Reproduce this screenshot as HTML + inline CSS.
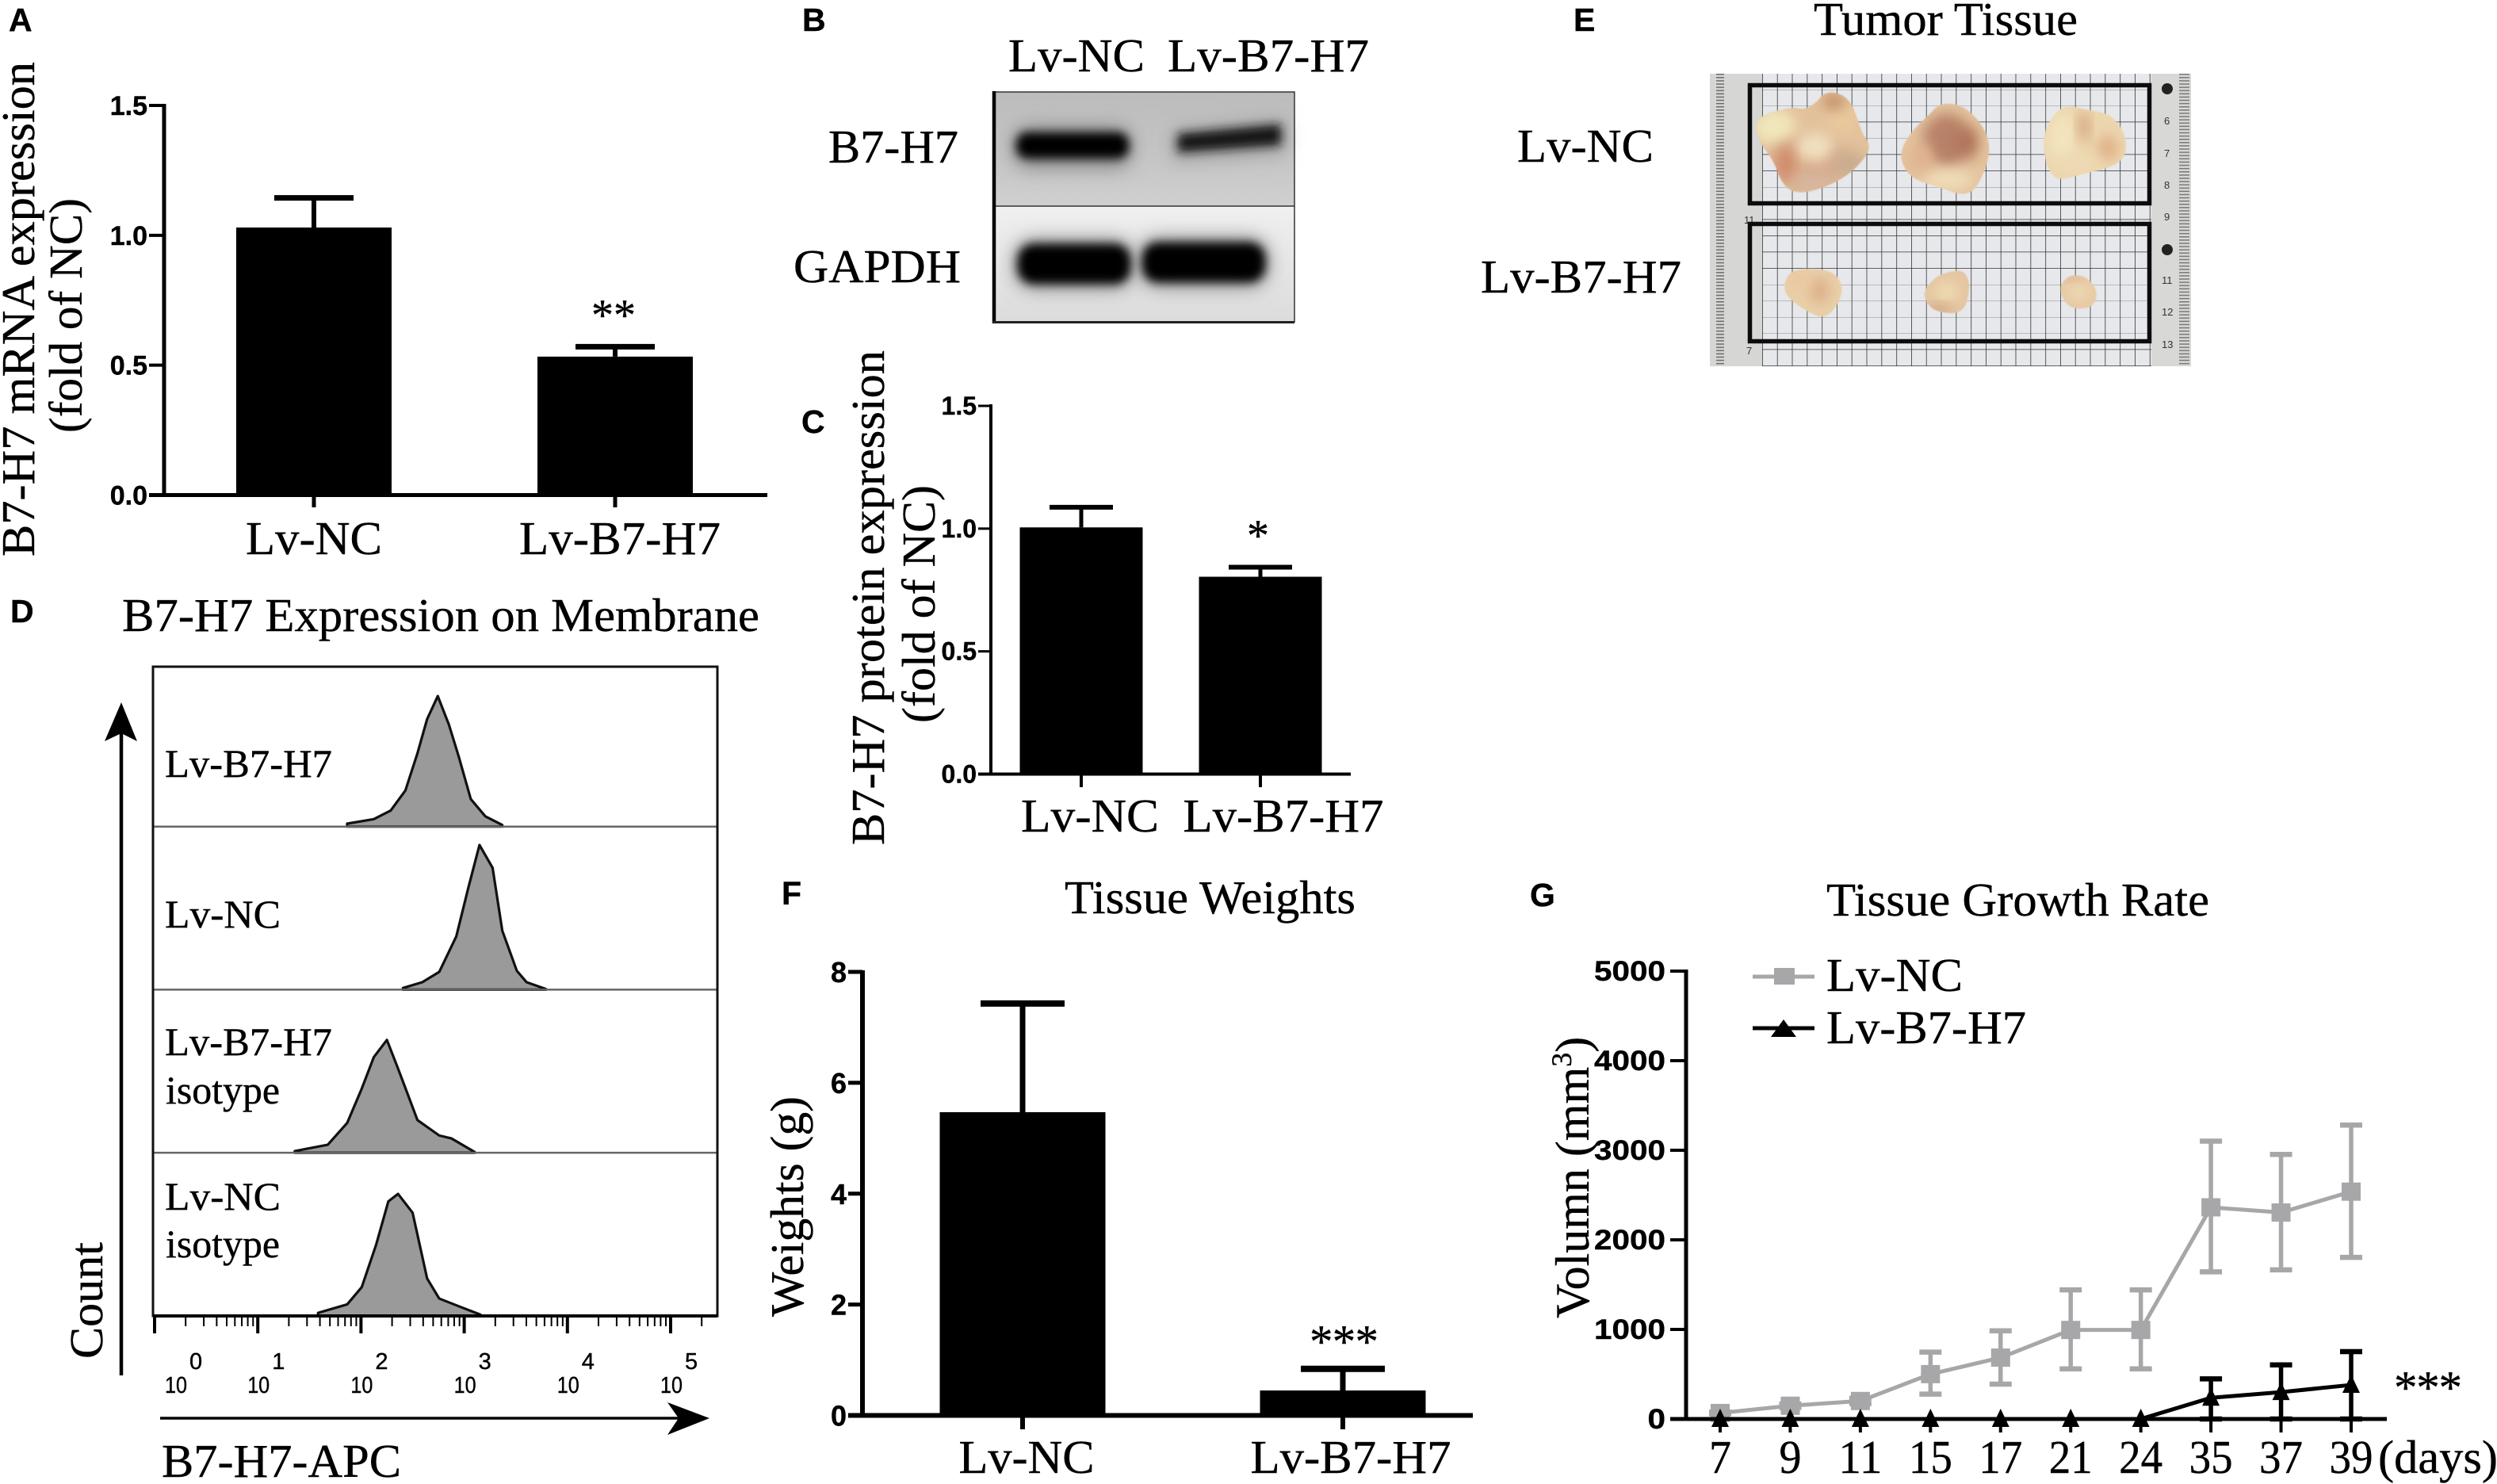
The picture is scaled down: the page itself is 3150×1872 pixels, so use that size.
<!DOCTYPE html>
<html lang="en">
<head>
<meta charset="utf-8">
<title>B7-H7 figure</title>
<style>
html,body{margin:0;padding:0;background:#fff;width:3150px;height:1872px;overflow:hidden}
svg{display:block}
text{fill:#000;stroke:#000;stroke-width:.4px}
.s{font-family:"Liberation Serif",serif;font-size:59px}
.m{font-family:"Liberation Serif",serif;font-size:50px}
.l{font-family:"Liberation Sans",sans-serif;font-weight:700;font-size:41px}
text.r{font-family:"Liberation Sans",sans-serif;font-size:13px;fill:#333;stroke:none}
</style>
</head>
<body>
<svg id="fig" xmlns="http://www.w3.org/2000/svg" width="3150" height="1872" viewBox="0 0 3150 1872">
<defs>
  <filter id="blur2" x="-30%" y="-100%" width="160%" height="300%"><feGaussianBlur stdDeviation="6"/></filter>
  <filter id="halo" x="-30%" y="-100%" width="160%" height="300%"><feGaussianBlur stdDeviation="12"/></filter>
  <filter id="blur6" x="-60%" y="-60%" width="220%" height="220%"><feGaussianBlur stdDeviation="14 24"/></filter>
  <filter id="edge" x="-5%" y="-5%" width="110%" height="110%"><feGaussianBlur stdDeviation="1.5 2.500"/></filter>
  <linearGradient id="blotTop" x1="0" y1="0" x2="0" y2="1"><stop offset="0" stop-color="#bcbcbc"/><stop offset=".6" stop-color="#c6c6c6"/><stop offset="1" stop-color="#d0d0d0"/></linearGradient>
  <linearGradient id="blotBot" x1="0" y1="0" x2="0" y2="1"><stop offset="0" stop-color="#f0f0f0"/><stop offset="1" stop-color="#dcdcdc"/></linearGradient>
  <pattern id="gridCells" width="18.8" height="20.5" patternUnits="userSpaceOnUse" x="2223" y="92">
    <rect width="18.8" height="20.5" fill="#e7e8eb"/>
    <path d="M0 0V20.5M0 0H18.8" stroke="#333" stroke-width="1.6" fill="none"/>
  </pattern>
  <pattern id="rulerL" width="66" height="4.1" patternUnits="userSpaceOnUse" x="2157" y="93">
    <rect width="66" height="4.1" fill="#d6d6d4"/><rect x="8" width="10" height="1.5" fill="#6a6a6a"/>
  </pattern>
  <pattern id="rulerR" width="50" height="4.1" patternUnits="userSpaceOnUse" x="2714" y="93">
    <rect width="50" height="4.1" fill="#d8d8d6"/><rect x="35" width="13" height="1.5" fill="#777"/>
  </pattern>
  <path id="t1" data-pts="600,470 620,430 680,405 705,415 730,385 745,350 775,350 800,385 812,440 825,510 835,530 840,570 810,640 770,690 720,725 680,730 655,690 640,610 610,540"/>
  <path id="t2" data-pts="985,390 1030,395 1070,460 1090,540 1085,620 1060,720 1030,740 980,705 930,680 905,620 905,560 930,490 960,440"/>
  <path id="t3" data-pts="1240,395 1290,415 1340,430 1370,500 1375,580 1350,630 1280,660 1230,685 1210,640 1200,560 1205,480"/>
  <path id="t4" data-pts="680,1015 760,1020 785,1080 775,1150 745,1210 700,1170 665,1120 660,1070"/>
  <path id="t5" data-pts="1000,1030 1035,1020 1050,1080 1035,1190 975,1180 955,1140 952,1100 975,1050"/>
  <path id="t6" data-pts="1255,1040 1290,1045 1315,1100 1305,1165 1260,1170 1240,1130 1235,1080"/>
  <clipPath id="c1"><use href="#t1"/></clipPath>
  <clipPath id="c2"><use href="#t2"/></clipPath>
  <clipPath id="c3"><use href="#t3"/></clipPath>
  <clipPath id="c4"><use href="#t4"/></clipPath>
  <clipPath id="c5"><use href="#t5"/></clipPath>
  <clipPath id="c6"><use href="#t6"/></clipPath>
</defs>

<!-- panel letters -->
<text class="l" x="11" y="39">A</text>
<text class="l" x="1012" y="39">B</text>
<text class="l" x="1011" y="546">C</text>
<text class="l" x="13" y="785">D</text>
<text class="l" x="1985" y="39">E</text>
<text class="l" x="986" y="1141">F</text>
<text class="l" x="1930" y="1143">G</text>

<!-- panel A static text -->
<text class="s" transform="translate(43,702) rotate(-90)" textLength="624" lengthAdjust="spacingAndGlyphs">B7-H7 mRNA expression</text>
<text class="s" transform="translate(103,546) rotate(-90)" textLength="296" lengthAdjust="spacingAndGlyphs">(fold of NC)</text>
<text class="s" x="746" y="416" style="font-size:56px">**</text>

<!-- panel B blot -->
<g>
  <rect x="1252" y="116" width="381" height="144" fill="url(#blotTop)"/>
  <rect x="1252" y="260" width="381" height="146" fill="url(#blotBot)"/>
  <rect x="1278" y="160" width="150" height="52" rx="20" fill="#8a8a8a" filter="url(#halo)"/>
  <polygon points="1480,165 1620,152 1620,192 1480,202" fill="#9a9a9a" filter="url(#halo)"/>
  <rect x="1282" y="167" width="142" height="33" rx="14" fill="#050505" filter="url(#blur2)"/>
  <polygon points="1486,169 1616,157 1616,183 1486,192" fill="#151515" filter="url(#blur2)"/>
  <rect x="1280" y="302" width="150" height="62" rx="24" fill="#888" filter="url(#halo)"/>
  <rect x="1437" y="300" width="163" height="62" rx="24" fill="#888" filter="url(#halo)"/>
  <rect x="1284" y="308" width="142" height="50" rx="20" fill="#000" filter="url(#blur2)"/>
  <rect x="1441" y="306" width="155" height="50" rx="20" fill="#000" filter="url(#blur2)"/>
  <path d="M1252 260H1633" stroke="#333" stroke-width="1.5"/>
  <path d="M1252 116H1633V406H1252" fill="none" stroke="#333" stroke-width="1.5"/>
  <path d="M1254 115V408" stroke="#000" stroke-width="4.5"/>
  <path d="M1252 406.500H1633" stroke="#222" stroke-width="3"/>
</g>
<text class="s" x="1272" y="90" textLength="172" lengthAdjust="spacingAndGlyphs">Lv-NC</text>
<text class="s" x="1473" y="90" textLength="254" lengthAdjust="spacingAndGlyphs">Lv-B7-H7</text>
<text class="s" x="1045" y="205" textLength="164" lengthAdjust="spacingAndGlyphs">B7-H7</text>
<text class="s" x="1001" y="356" textLength="211" lengthAdjust="spacingAndGlyphs">GAPDH</text>

<!-- panel C static text -->
<text class="s" transform="translate(1115,1066) rotate(-90)" textLength="624" lengthAdjust="spacingAndGlyphs">B7-H7 protein expression</text>
<text class="s" transform="translate(1179,912) rotate(-90)" textLength="300" lengthAdjust="spacingAndGlyphs">(fold of NC)</text>
<text class="s" x="1587" y="694" text-anchor="middle" style="font-size:56px">*</text>

<!-- panel D static text -->
<text class="s" x="154" y="796" textLength="804" lengthAdjust="spacingAndGlyphs">B7-H7 Expression on Membrane</text>
<text class="m" x="208" y="980" textLength="211" lengthAdjust="spacingAndGlyphs">Lv-B7-H7</text>
<text class="m" x="208" y="1170" textLength="146" lengthAdjust="spacingAndGlyphs">Lv-NC</text>
<text class="m" x="208" y="1331" textLength="211" lengthAdjust="spacingAndGlyphs">Lv-B7-H7</text>
<text class="m" x="209" y="1392" textLength="144" lengthAdjust="spacingAndGlyphs">isotype</text>
<text class="m" x="208" y="1526" textLength="146" lengthAdjust="spacingAndGlyphs">Lv-NC</text>
<text class="m" x="209" y="1586" textLength="144" lengthAdjust="spacingAndGlyphs">isotype</text>
<text class="s" transform="translate(129,1714) rotate(-90)" textLength="147" lengthAdjust="spacingAndGlyphs">Count</text>
<text class="s" x="204" y="1863" textLength="302" lengthAdjust="spacingAndGlyphs">B7-H7-APC</text>
<g>
  <path d="M153 1735V920" stroke="#000" stroke-width="4.5"/>
  <polygon points="153,886 173,935 153,925 132,935" fill="#000"/>
  <path d="M202 1789H870" stroke="#000" stroke-width="3.5"/>
  <polygon points="895,1789 842,1810 856,1789 842,1769" fill="#000"/>
</g>

<!-- panel E photo -->
<text class="s" x="2288" y="44" textLength="333" lengthAdjust="spacingAndGlyphs">Tumor Tissue</text>
<text class="s" x="1914" y="204" textLength="172" lengthAdjust="spacingAndGlyphs">Lv-NC</text>
<text class="s" x="1868" y="369" textLength="253" lengthAdjust="spacingAndGlyphs">Lv-B7-H7</text>
<g>
  <rect x="2157" y="93" width="66" height="369" fill="url(#rulerL)"/>
  <rect x="2714" y="93" width="50" height="369" fill="url(#rulerR)"/>
  <rect x="2223" y="93" width="491" height="369" fill="url(#gridCells)"/>
  <g>
    <circle cx="2734" cy="112" r="7" fill="#222"/>
    <circle cx="2734" cy="315" r="7" fill="#222"/>
    <text class="r" x="2730" y="157">6</text>
    <text class="r" x="2730" y="198">7</text>
    <text class="r" x="2730" y="238">8</text>
    <text class="r" x="2730" y="278">9</text>
    <text class="r" x="2727" y="358">11</text>
    <text class="r" x="2727" y="398">12</text>
    <text class="r" x="2727" y="439">13</text>
    <text class="r" x="2200" y="282">11</text>
    <text class="r" x="2203" y="447">7</text>
  </g>
  <g transform="translate(1850,0) scale(0.606,0.3333)">
    <g filter="url(#edge)">
      <use href="#t1" fill="#e2c19c"/>
      <g clip-path="url(#c1)">
        <ellipse cx="640" cy="480" rx="45" ry="70" fill="#f0e6bb" filter="url(#blur6)"/>
        <ellipse cx="785" cy="450" rx="35" ry="60" fill="#e8c89c" filter="url(#blur6)"/>
        <ellipse cx="765" cy="385" rx="22" ry="30" fill="#c08a62" filter="url(#blur6)"/>
        <ellipse cx="710" cy="620" rx="85" ry="100" fill="#d8a98a" filter="url(#blur6)" opacity=".9"/>
        <ellipse cx="725" cy="555" rx="40" ry="55" fill="#f0e0bf" filter="url(#blur6)"/>
        <ellipse cx="665" cy="620" rx="14" ry="70" fill="#c97756" filter="url(#blur6)" opacity=".8"/>
        <ellipse cx="795" cy="620" rx="35" ry="50" fill="#c9ad8e" filter="url(#blur6)"/>
        <ellipse cx="720" cy="690" rx="45" ry="30" fill="#d6b8a0" filter="url(#blur6)"/>
      </g>
    </g>
    <g filter="url(#edge)">
      <use href="#t2" fill="#e4c39e"/>
      <g clip-path="url(#c2)">
        <ellipse cx="1000" cy="530" rx="50" ry="100" fill="#b27a62" filter="url(#blur6)" opacity=".9"/>
        <ellipse cx="1045" cy="540" rx="20" ry="60" fill="#a7684e" filter="url(#blur6)" opacity=".8"/>
        <ellipse cx="1000" cy="680" rx="55" ry="40" fill="#efdcb8" filter="url(#blur6)"/>
        <ellipse cx="945" cy="600" rx="24" ry="60" fill="#e0b391" filter="url(#blur6)"/>
      </g>
    </g>
    <g filter="url(#edge)">
      <use href="#t3" fill="#ecd6ae"/>
      <g clip-path="url(#c3)">
        <ellipse cx="1240" cy="520" rx="30" ry="90" fill="#f2e4bd" filter="url(#blur6)"/>
        <ellipse cx="1285" cy="480" rx="10" ry="60" fill="#cf9a76" filter="url(#blur6)"/>
        <ellipse cx="1335" cy="560" rx="20" ry="50" fill="#dfae85" filter="url(#blur6)"/>
        <ellipse cx="1270" cy="620" rx="50" ry="30" fill="#eddab5" filter="url(#blur6)"/>
      </g>
    </g>
    <g filter="url(#edge)">
      <use href="#t4" fill="#e8cfa8"/>
      <g clip-path="url(#c4)">
        <ellipse cx="735" cy="1100" rx="18" ry="50" fill="#dcaa84" filter="url(#blur6)"/>
        <ellipse cx="690" cy="1060" rx="18" ry="35" fill="#ebc6a0" filter="url(#blur6)"/>
      </g>
    </g>
    <g filter="url(#edge)">
      <use href="#t5" fill="#e4c6a2"/>
      <g clip-path="url(#c5)">
        <ellipse cx="1000" cy="1105" rx="24" ry="40" fill="#eedbb1" filter="url(#blur6)"/>
        <ellipse cx="985" cy="1170" rx="26" ry="16" fill="#cc957a" filter="url(#blur6)"/>
      </g>
    </g>
    <g filter="url(#edge)">
      <use href="#t6" fill="#e6c9a4"/>
      <g clip-path="url(#c6)">
        <ellipse cx="1275" cy="1105" rx="22" ry="32" fill="#efdab2" filter="url(#blur6)"/>
        <ellipse cx="1262" cy="1050" rx="18" ry="10" fill="#d2a088" filter="url(#blur6)"/>
      </g>
    </g>
  </g>
  <rect x="2207.500" y="107.500" width="504" height="149" fill="none" stroke="#0c0c0c" stroke-width="5.500"/>
  <rect x="2207.500" y="282.500" width="504" height="148" fill="none" stroke="#0c0c0c" stroke-width="5.500"/>
</g>

<!-- panel F static text -->
<text class="s" x="1343" y="1152" textLength="367" lengthAdjust="spacingAndGlyphs">Tissue Weights</text>
<text class="s" transform="translate(1013,1661) rotate(-90)" textLength="278" lengthAdjust="spacingAndGlyphs">Weights (g)</text>
<text class="s" x="1652" y="1712" textLength="87" lengthAdjust="spacing">***</text>

<!-- panel G static text -->
<text class="s" x="2304" y="1155" textLength="483" lengthAdjust="spacingAndGlyphs">Tissue Growth Rate</text>
<text class="s" transform="translate(2004,1663) rotate(-90)" style="font-size:60px">Volumn (mm<tspan dy="-22" style="font-size:36px">3</tspan><tspan dy="22">)</tspan></text>
<text class="s" x="3000" y="1858" textLength="151" lengthAdjust="spacingAndGlyphs">(days)</text>
<text class="s" x="3020" y="1770" textLength="86" lengthAdjust="spacing">***</text>
<text class="s" x="2304" y="1250" textLength="172" lengthAdjust="spacingAndGlyphs">Lv-NC</text>
<text class="s" x="2304" y="1316" textLength="252" lengthAdjust="spacingAndGlyphs">Lv-B7-H7</text>
<g>
  <path d="M2211 1232H2289" stroke="#a7a7a9" stroke-width="5"/>
  <rect x="2238" y="1221" width="26" height="21" fill="#a7a7a9"/>
  <path d="M2211 1297H2289" stroke="#000" stroke-width="5"/>
  <polygon points="2250,1286 2266,1308 2234,1308" fill="#000"/>
</g>
</svg>

<script>
// Panel A
const aCategories = ['Lv-NC', 'Lv-B7-H7'];
const aMeans = [1.03, 0.533];
const aErrors = [0.114, 0.038];
const aTicks = [0, 0.5, 1.0, 1.5];
const aTickLabels = ['0.0', '0.5', '1.0', '1.5'];
// Panel C
const cCategories = ['Lv-NC', 'Lv-B7-H7'];
const cMeans = [1.005, 0.804];
const cErrors = [0.082, 0.039];
const cTicks = [0, 0.5, 1.0, 1.5];
const cTickLabels = ['0.0', '0.5', '1.0', '1.5'];
// Panel F
const fCategories = ['Lv-NC', 'Lv-B7-H7'];
const fMeans = [5.47, 0.45];
const fErrors = [1.96, 0.39];
const fTicks = [0, 2, 4, 6, 8];
const fTickLabels = ['0', '2', '4', '6', '8'];
// Panel D: x = log10 APC fluorescence, y = count as percent of lane height
const dDecades = [0, 1, 2, 3, 4, 5];
const dLanes = ['lv-b7-h7', 'lv-nc', 'lv-b7-h7-isotype', 'lv-nc-isotype'];
const hist1Log = [1.866, 2.124, 2.288, 2.43, 2.547, 2.641, 2.744, 2.852, 2.946, 3.064, 3.205, 3.369];
const hist1Count = [1.8, 4.6, 9.9, 22.2, 45.1, 66.2, 80.3, 62.7, 43.3, 16.9, 6.3, 1];
const hist2Log = [2.406, 2.594, 2.758, 2.923, 3.04, 3.148, 3.275, 3.369, 3.51, 3.604, 3.792];
const hist2Count = [1, 4.6, 10.9, 32.7, 62.7, 89, 75, 36.3, 11.6, 4.6, 0.4];
const hist3Log = [1.358, 1.678, 1.866, 2.007, 2.124, 2.251, 2.359, 2.547, 2.758, 2.876, 3.102];
const hist3Count = [1, 4.9, 18.3, 39.4, 58.8, 69.4, 51.8, 20.1, 10.6, 8.8, 0.4];
const hist4Log = [1.584, 1.866, 2.007, 2.148, 2.265, 2.359, 2.5, 2.641, 2.758, 2.97, 3.158];
const hist4Count = [1.8, 7, 17.6, 44, 70.4, 75, 63.4, 22.9, 10.6, 5.3, 0.7];
// Panel G
const gDays = ['7', '9', '11', '15', '17', '21', '24', '35', '37', '39'];
const gTicks = [0, 1000, 2000, 3000, 4000, 5000];
const gNcMean = [67, 148, 201, 501, 685, 994, 994, 2363, 2305, 2538];
const gNcUpper = [77, 168, 231, 747, 985, 1441, 1441, 3102, 2954, 3281];
const gNcLower = [57, 128, 171, 278, 389, 560, 560, 1643, 1665, 1804];
const gB7Mean = [0, 0, 0, 0, 0, 0, 0, 237, 300, 380];
const gB7Upper = [0, 0, 0, 0, 0, 0, 0, 448, 604, 752];
const gB7Lower = [0, 0, 0, 0, 0, 0, 0, 0, 0, 0];

const NS = 'http://www.w3.org/2000/svg';
const fig = document.getElementById('fig');

// Smooth tumour outlines (photo illustration, not chart data)
['t1', 't2', 't3', 't4', 't5', 't6'].forEach(function (id) {
  const p = document.getElementById(id);
  const pts = p.getAttribute('data-pts').split(' ').map(function (s) { return s.split(',').map(Number); });
  const n = pts.length;
  const mid = function (a, b) { return ((a[0] + b[0]) / 2) + ' ' + ((a[1] + b[1]) / 2); };
  let d = 'M' + mid(pts[n - 1], pts[0]);
  pts.forEach(function (q, i) { d += 'Q' + q[0] + ' ' + q[1] + ' ' + mid(q, pts[(i + 1) % n]); });
  p.setAttribute('d', d + 'Z');
});

function add(parent, tag, attrs, name) {
  const el = document.createElementNS(NS, tag);
  for (const k in attrs) el.setAttribute(k, attrs[k]);
  
  
  parent.appendChild(el);
  return el;
}
function line(parent, x1, y1, x2, y2, color, width, name) {
  return add(parent, 'line', { x1: x1, y1: y1, x2: x2, y2: y2, stroke: color, 'stroke-width': width }, name);
}
function label(parent, x, y, str, cls, size, anchor, len, name) {
  const attrs = { x: x, y: y, 'text-anchor': anchor, style: 'font-size:' + size + 'px;font-family:' + (cls === 'bold' ? '"Liberation Sans",sans-serif;font-weight:700' : cls === 'sans' ? '"Liberation Sans",sans-serif' : '"Liberation Serif",serif') };
  if (len) { attrs.textLength = len; attrs.lengthAdjust = 'spacingAndGlyphs'; }
  const t = add(parent, 'text', attrs, name);
  t.textContent = str;
  return t;
}
function linear(d0, d1, r0, r1) {
  return function (v) { return r0 + (v - d0) * (r1 - r0) / (d1 - d0); };
}

function barChart(id, categories, means, errors, ticks, tickLabels, geo) {
  const g = add(fig, 'g', {}, id + '-bar-chart');
  const y = linear(geo.dMin, geo.dMax, geo.yBottom, geo.yTop);
  const x = function (i) { return geo.xFirst + i * geo.xStep; };
  categories.forEach(function (c, i) {
    const slug = id + '-' + c.toLowerCase();
    line(g, x(i), y(means[i]), x(i), y(means[i] + errors[i]), '#000', geo.err, slug + '-error-bar');
    line(g, x(i) - geo.cap, y(means[i] + errors[i]), x(i) + geo.cap, y(means[i] + errors[i]), '#000', geo.err + 1, slug + '-error-cap');
    add(g, 'rect', { x: x(i) - geo.barW / 2, y: y(means[i]), width: geo.barW, height: y(0) - y(means[i]), fill: '#000' }, slug + '-bar');
    line(g, x(i), geo.yBottom, x(i), geo.tickBottom, '#000', geo.axis, slug + '-x-tick');
    label(g, x(i) + geo.labelDx[i], geo.labelY, c, 'serif', 59, 'middle', geo.labelLen[i], slug + '-x-label');
  });
  line(g, geo.xAxis, geo.yTop - 2, geo.xAxis, geo.yBottom + 2, '#000', geo.axis, id + '-y-axis');
  line(g, geo.xTick, geo.yBottom, geo.xEnd, geo.yBottom, '#000', geo.axis, id + '-x-axis');
  ticks.forEach(function (t, i) {
    line(g, geo.xTick, y(t), geo.xAxis, y(t), '#000', geo.axis - 1, id + '-y-tick-' + tickLabels[i]);
    label(g, geo.xTick - 2, y(t) + geo.tickDy, tickLabels[i], 'bold', geo.tickSize, 'end', 0, id + '-y-tick-label-' + tickLabels[i]);
  });
}

barChart('a', aCategories, aMeans, aErrors, aTicks, aTickLabels, {
  dMin: 0, dMax: 1.5, yBottom: 624.5, yTop: 133, xFirst: 396, xStep: 380, barW: 196, cap: 50, err: 6, axis: 5,
  xAxis: 207, xTick: 188, xEnd: 968, tickBottom: 640, labelY: 699, labelDx: [0, 6], labelLen: [172, 254], tickDy: 12, tickSize: 34
});
barChart('c', cCategories, cMeans, cErrors, cTicks, cTickLabels, {
  dMin: 0, dMax: 1.5, yBottom: 976.5, yTop: 512, xFirst: 1364, xStep: 226, barW: 155, cap: 40, err: 5, axis: 4,
  xAxis: 1250, xTick: 1234, xEnd: 1704, tickBottom: 993, labelY: 1049, labelDx: [11, 29], labelLen: [174, 253], tickDy: 11, tickSize: 32
});
barChart('f', fCategories, fMeans, fErrors, fTicks, fTickLabels, {
  dMin: 0, dMax: 8, yBottom: 1785.5, yTop: 1226, xFirst: 1290, xStep: 404, barW: 209, cap: 53, err: 7, axis: 6,
  xAxis: 1088, xTick: 1070, xEnd: 1858, tickBottom: 1803, labelY: 1858, labelDx: [5, 10], labelLen: [171, 253], tickDy: 13, tickSize: 36
});

// Panel D histograms
(function () {
  const g = add(fig, 'g', {}, 'd-flow-histograms');
  const x = linear(0, 5, 195, 846);
  const logs = [hist1Log, hist2Log, hist3Log, hist4Log];
  const counts = [hist1Count, hist2Count, hist3Count, hist4Count];
  const laneBottom = function (i) { return 837 + 205.7 * (i + 1); };
  dLanes.forEach(function (lane, i) {
    const b = laneBottom(i);
    const y = linear(0, 100, b, b - 205);
    let pts = x(logs[i][0]) + ',' + b;
    logs[i].forEach(function (l, j) { pts += ' ' + x(l) + ',' + y(counts[i][j]); });
    pts += ' ' + x(logs[i][logs[i].length - 1]) + ',' + b;
    add(g, 'polygon', { points: pts, fill: '#9a9a9a', stroke: '#111', 'stroke-width': 3.2, 'stroke-linejoin': 'round' }, 'histogram-' + lane);
    line(g, 193, b, 905, b, '#666', 2.5, 'lane-divider-' + lane);
  });
  add(g, 'rect', { x: 193, y: 841, width: 712, height: 819, fill: 'none', stroke: '#111', 'stroke-width': 3 }, 'd-plot-frame');
  line(g, 193, 1660, 905, 1660, '#000', 4, 'd-x-axis');
  dDecades.forEach(function (d, i) {
    line(g, x(d), 1660, x(d), 1682, '#000', 4, 'd-major-tick-' + d);
    [2, 3, 4, 5, 6, 7, 8, 9].forEach(function (m) {
      const v = d + Math.log10(m);
      if (x(v) < 904) line(g, x(v), 1660, x(v), 1673, '#000', 2, 'd-minor-tick');
    });
    const off = i === 0 ? 13 : -13;
    label(g, x(d) + off, 1757, '10', 'sans', 29, 'start', 28, 'd-tick-base-' + d);
    label(g, x(d) + off + 31, 1727, String(d), 'sans', 29, 'start', 0, 'd-tick-exponent-' + d);
  });
})();

// Panel G
(function () {
  const g = add(fig, 'g', {}, 'g-line-chart');
  const x = linear(0, 9, 2170, 2966);
  const y = linear(0, 5000, 1790, 1225);
  function series(name, mean, upper, lower, color, drawMarker) {
    const s = add(g, 'g', {}, name + '-series');
    mean.forEach(function (m, i) {
      if (upper[i] === lower[i]) return;
      line(s, x(i), y(upper[i]), x(i), y(lower[i]), color, 5.5, name + '-error-bar-' + gDays[i]);
      line(s, x(i) - 14, y(upper[i]), x(i) + 14, y(upper[i]), color, 6.5, name + '-error-cap-upper-' + gDays[i]);
      line(s, x(i) - 14, y(lower[i]), x(i) + 14, y(lower[i]), color, 6.5, name + '-error-cap-lower-' + gDays[i]);
    });
    let pts = '';
    mean.forEach(function (m, i) { if (m > 0 || name === 'lv-nc' || i === 6) pts += x(i) + ',' + y(m) + ' '; });
    add(s, 'polyline', { points: pts.trim(), fill: 'none', stroke: color, 'stroke-width': 5 }, name + '-line');
    mean.forEach(function (m, i) { drawMarker(s, x(i), y(m), gDays[i]); });
  }
  series('lv-nc', gNcMean, gNcUpper, gNcLower, '#a7a7a9', function (s, cx, cy, d) {
    add(s, 'rect', { x: cx - 12, y: cy - 11.5, width: 24, height: 23, fill: '#a7a7a9' }, 'lv-nc-point-' + d);
  });
  line(g, 2127, 1223, 2127, 1792, '#000', 5, 'g-y-axis');
  line(g, 2107, 1790, 3011, 1790, '#000', 5, 'g-x-axis');
  gTicks.forEach(function (t) {
    line(g, 2107, y(t), 2127, y(t), '#000', 4, 'g-y-tick-' + t);
    label(g, 2101, y(t) + 12, String(t), 'bold', 35, 'end', 90 * String(t).length / 4, 'g-y-tick-label-' + t);
  });
  gDays.forEach(function (d, i) {
    line(g, x(i), 1790, x(i), 1807, '#000', 4, 'g-x-tick-' + d);
    label(g, x(i), 1858, d, 'serif', 59, 'middle', d.length > 1 ? 55 : 28, 'g-x-tick-label-' + d);
  });
  series('lv-b7-h7', gB7Mean, gB7Upper, gB7Lower, '#000', function (s, cx, cy, d) {
    add(s, 'polygon', { points: cx + ',' + (cy - 13) + ' ' + (cx + 11) + ',' + (cy + 10) + ' ' + (cx - 11) + ',' + (cy + 10), fill: '#000' }, 'lv-b7-h7-point-' + d);
  });
})();
</script>
</body>
</html>
